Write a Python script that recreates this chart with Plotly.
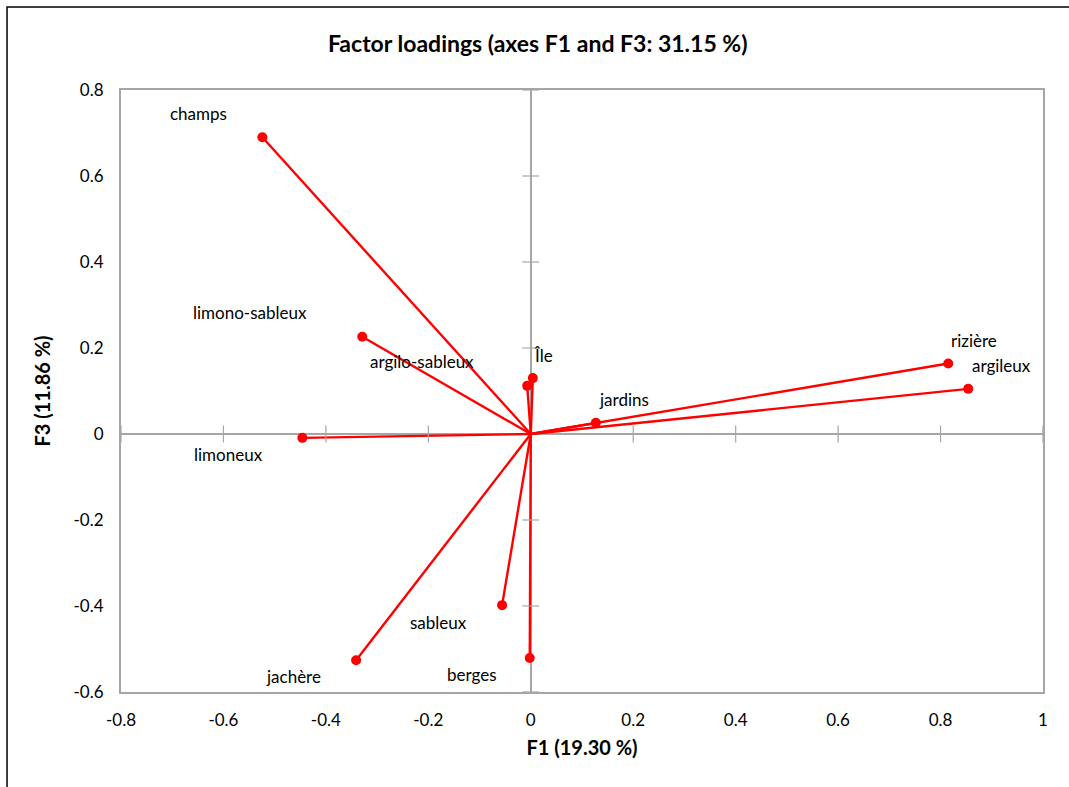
import plotly.graph_objects as go

# Factor loadings on F1 and F3
variables = ["champs", "limono-sableux", "argilo-sableux", "Île", "limoneux",
             "jachère", "sableux", "berges", "jardins", "rizière", "argileux"]
f1 = [-0.524, -0.329, -0.007, 0.004, -0.446, -0.341, -0.056, -0.002, 0.127, 0.815, 0.854]
f3 = [0.690, 0.226, 0.112, 0.130, -0.009, -0.526, -0.398, -0.521, 0.026, 0.164, 0.105]

x_ticks = [-0.8, -0.6, -0.4, -0.2, 0, 0.2, 0.4, 0.6, 0.8, 1]
y_ticks = [-0.6, -0.4, -0.2, 0, 0.2, 0.4, 0.6, 0.8]

# pixel offsets of each variable name from its point
label_shift = {
    "champs": (-64, 24), "limono-sableux": (-112, 24), "argilo-sableux": (-105, 24),
    "Île": (11, 23), "limoneux": (-74, -17), "jachère": (-63, -16),
    "sableux": (-64, -17), "berges": (-58, -16), "jardins": (28, 23),
    "rizière": (26, 23), "argileux": (33, 23),
}

FONT = "Lato, Carlito, Calibri, sans-serif"
RED = "#FF0000"
GRID = "#A6A6A6"

# vectors from the origin to every loading
vx, vy = [], []
for a, b in zip(f1, f3):
    vx += [0, a, None]
    vy += [0, b, None]

fig = go.Figure()
fig.add_trace(go.Scatter(x=vx, y=vy, mode="lines",
                         line=dict(color=RED, width=2.4), hoverinfo="skip",
                         showlegend=False))
fig.add_trace(go.Scatter(x=f1, y=f3, mode="markers", text=variables,
                         marker=dict(color=RED, size=10), showlegend=False))

# tick marks crossing the zero lines
xt = [t for t in x_ticks if t != 0]
yt = [t for t in y_ticks if t != 0]
fig.add_trace(go.Scatter(x=xt, y=[0] * len(xt), mode="markers", hoverinfo="skip",
                         marker=dict(symbol="line-ns", size=12,
                                     line=dict(color=GRID, width=1.2)),
                         showlegend=False))
fig.add_trace(go.Scatter(x=[0] * len(yt), y=yt, mode="markers", hoverinfo="skip",
                         marker=dict(symbol="line-ew", size=12,
                                     line=dict(color=GRID, width=1.2)),
                         showlegend=False))

for name, a, b in zip(variables, f1, f3):
    dx, dy = label_shift[name]
    fig.add_annotation(x=a, y=b, text=name, showarrow=False,
                       xshift=dx, yshift=dy,
                       font=dict(family=FONT, size=17, color="#000000"))

# outer chart frame
fig.add_shape(type="rect", xref="paper", yref="paper",
              x0=-0.1236, x1=1.05, y0=-0.18, y1=1.1379,
              line=dict(color="#000000", width=1.5), layer="below")

axis_common = dict(showgrid=False, showline=True, mirror=True, linecolor=GRID,
                   linewidth=2, ticks="", zeroline=True, zerolinecolor=GRID,
                   zerolinewidth=1.5,
                   tickfont=dict(family=FONT, size=17, color="#000000"))

fig.update_layout(
    width=1069, height=787,
    margin=dict(l=121, r=26, t=90, b=95),
    paper_bgcolor="white", plot_bgcolor="white",
    title=dict(text="<b>Factor loadings (axes F1 and F3: 31.15 %)</b>",
               x=0.503, xanchor="center", y=1 - 44 / 787, yanchor="middle",
               font=dict(family=FONT, size=23, color="#000000")),
    xaxis=dict(range=[-0.8, 1], tickvals=x_ticks,
               ticktext=[f"{t:g}" for t in x_ticks],
               title=dict(text="<b>F1 (19.30 %)</b>", standoff=12,
                          font=dict(family=FONT, size=20, color="#000000")),
               ticklabelstandoff=12, **axis_common),
    yaxis=dict(range=[-0.6, 0.8], tickvals=y_ticks,
               ticktext=[f"{t:g}" for t in y_ticks],
               title=dict(text="<b>F3 (11.86 %)</b>", standoff=18,
                          font=dict(family=FONT, size=20, color="#000000")),
               ticklabelstandoff=12, **axis_common),
)

fig.write_html("out.html")
